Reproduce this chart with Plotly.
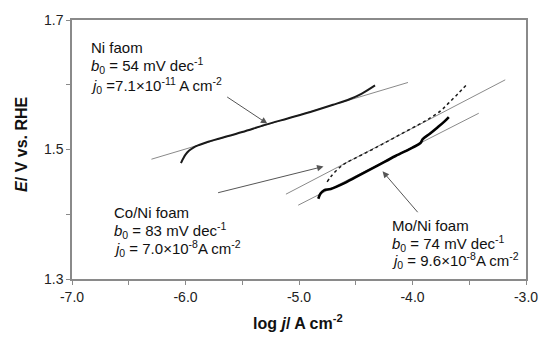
import plotly.graph_objects as go

# ---- data ----
ni_logj = [-6.04, -6.02, -6.0, -5.97, -5.93, -5.88, -5.8, -5.7, -5.5, -5.3, -5.1, -4.9, -4.7, -4.55, -4.45, -4.33]
ni_E = [1.479, 1.486, 1.492, 1.498, 1.503, 1.507, 1.512, 1.517, 1.527, 1.538, 1.548, 1.558, 1.569, 1.578, 1.586, 1.599]

co_logj = [-4.752, -4.72, -4.68, -4.63, -4.59, -4.5, -4.3, -4.1, -3.95, -3.85, -3.75, -3.68, -3.6, -3.53]
co_E = [1.450, 1.458, 1.466, 1.474, 1.479, 1.487, 1.505, 1.524, 1.538, 1.548, 1.560, 1.572, 1.586, 1.599]

mo_logj = [-4.83, -4.81, -4.78, -4.72, -4.6, -4.45, -4.3, -4.15, -4.0, -3.93, -3.91, -3.85, -3.78, -3.72, -3.68]
mo_E = [1.424, 1.432, 1.437, 1.439, 1.448, 1.462, 1.476, 1.490, 1.503, 1.510, 1.516, 1.524, 1.534, 1.543, 1.550]

# Tafel fit lines (end points)
ni_fit_logj = [-6.30, -4.04]
ni_fit_E = [1.485, 1.6035]
co_fit_logj = [-5.115, -3.183]
co_fit_E = [1.431, 1.6076]
mo_fit_logj = [-5.007, -3.416]
mo_fit_E = [1.414, 1.556]

# arrows: (tail x, tail y, head x, head y)
arrows = [
    (-5.646, 1.5826, -5.279, 1.540),
    (-5.726, 1.4327, -4.784, 1.4738),
    (-3.943, 1.4008, -4.264, 1.4663),
]

x_tickvals = [-7.0, -6.5, -6.0, -5.5, -5.0, -4.5, -4.0, -3.5, -3.0]
x_ticktext = ["-7.0", "", "-6.0", "", "-5.0", "", "-4.0", "", "-3.0"]
y_tickvals = [1.3, 1.4, 1.5, 1.6, 1.7]
y_ticktext = ["1.3", "", "1.5", "", "1.7"]

# text blocks: (x, [y per line], [lines])
labels = [
    (-6.847, [1.657, 1.629, 1.599],
     ["Ni faom",
      "<i>b</i><sub>0</sub> = 54 mV dec<sup>-1</sup>",
      "<i>j</i><sub>0</sub> =7.1×10<sup>-11</sup> A cm<sup>-2</sup>"]),
    (-6.645, [1.402, 1.375, 1.347],
     ["Co/Ni foam",
      "<i>b</i><sub>0</sub> = 83 mV dec<sup>-1</sup>",
      "<i>j</i><sub>0</sub> = 7.0×10<sup>-8</sup>A cm<sup>-2</sup>"]),
    (-4.20, [1.383, 1.355, 1.328],
     ["Mo/Ni foam",
      "<i>b</i><sub>0</sub> = 74 mV dec<sup>-1</sup>",
      "<i>j</i><sub>0</sub> = 9.6×10<sup>-8</sup>A cm<sup>-2</sup>"]),
]

FONT = "Arial, Liberation Sans, sans-serif"
GRAY = "#8a8a8a"

fig = go.Figure()

for fx, fy in [(ni_fit_logj, ni_fit_E), (co_fit_logj, co_fit_E), (mo_fit_logj, mo_fit_E)]:
    fig.add_trace(go.Scatter(x=fx, y=fy, mode="lines",
                             line=dict(color=GRAY, width=1), showlegend=False))

fig.add_trace(go.Scatter(x=ni_logj, y=ni_E, mode="lines", line_shape="spline",
                         line=dict(color="#1a1a1a", width=2), showlegend=False))
fig.add_trace(go.Scatter(x=co_logj, y=co_E, mode="lines", line_shape="spline",
                         line=dict(color="#1a1a1a", width=1.5, dash="dot"), showlegend=False))
fig.add_trace(go.Scatter(x=mo_logj, y=mo_E, mode="lines", line_shape="spline",
                         line=dict(color="#000000", width=2.6), showlegend=False))

annotations = []
for tx, ty, hx, hy in arrows:
    annotations.append(dict(x=hx, y=hy, ax=tx, ay=ty, xref="x", yref="y",
                            axref="x", ayref="y", text="", showarrow=True,
                            arrowhead=2, arrowsize=1.3, arrowwidth=1,
                            arrowcolor="#555555"))

for lx, ys, lines in labels:
    for ly, t in zip(ys, lines):
        annotations.append(dict(x=lx, y=ly, xref="x", yref="y", text=t,
                                showarrow=False, xanchor="left", yanchor="middle",
                                font=dict(family=FONT, size=15, color="#111111")))

annotations.append(dict(x=-0.111, y=0.52, xref="paper", yref="paper",
                        text="<b><i>E</i>/ V vs. RHE</b>", textangle=-90,
                        showarrow=False, xanchor="center", yanchor="middle",
                        font=dict(family=FONT, size=16, color="#111111")))
annotations.append(dict(x=0.497, y=-0.165, xref="paper", yref="paper",
                        text="<b>log <i>j</i>/ A cm<sup>-2</sup></b>",
                        showarrow=False, xanchor="center", yanchor="middle",
                        font=dict(family=FONT, size=16, color="#111111")))

fig.update_layout(
    width=550, height=341,
    margin=dict(l=72, r=19, t=12, b=62),
    plot_bgcolor="white", paper_bgcolor="white",
    annotations=annotations,
    hovermode=False,
    font=dict(family=FONT, size=14, color="#222222"),
    xaxis=dict(range=[-7, -3], tickvals=x_tickvals, ticktext=x_ticktext,
               ticks="outside", ticklen=4, tickcolor=GRAY, tickwidth=1,
               showline=True, linecolor=GRAY, linewidth=1.5, mirror=True,
               showgrid=False, zeroline=False,
               tickfont=dict(family=FONT, size=14, color="#222222")),
    yaxis=dict(range=[1.3, 1.7], tickvals=y_tickvals, ticktext=y_ticktext,
               ticks="outside", ticklen=4, tickcolor=GRAY, tickwidth=1,
               showline=True, linecolor=GRAY, linewidth=1.5, mirror=True,
               showgrid=False, zeroline=False,
               tickfont=dict(family=FONT, size=14, color="#222222")),
)

fig.write_html("out.html", config={"displayModeBar": False},
               post_script="document.body.style.margin='0';document.body.style.overflow='hidden';")
